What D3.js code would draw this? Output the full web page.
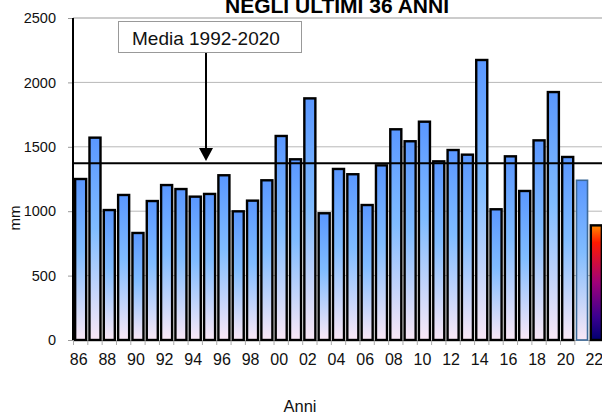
<!DOCTYPE html>
<html>
<head>
    <meta charset="utf-8">
    <title>Precipitazioni annue</title>
    <script type="text/javascript" src="https://d3js.org/d3.v7.min.js"></script>
    <style>
        body { margin: 0; background: white; }
        .canvas { font-family: "Liberation Sans", Arial, sans-serif; background-color: white; }
    </style>
</head>
<body>
    <svg class="canvas" width="602" height="414"></svg>
    <script type="text/javascript">
        // anni (etichette) e precipitazione annua in mm
        var years = ["86","87","88","89","90","91","92","93","94","95","96","97","98","99",
                     "00","01","02","03","04","05","06","07","08","09","10","11","12","13",
                     "14","15","16","17","18","19","20","21","22"]
        var rain = [1250, 1571, 1009, 1126, 831, 1079, 1203, 1172, 1113, 1134, 1279, 999, 1082, 1240,
                    1584, 1403, 1876, 984, 1328, 1287, 1048, 1356, 1636, 1543, 1695, 1387, 1475, 1439,
                    2174, 1015, 1426, 1157, 1550, 1925, 1421, 1240, 890]
        var media = 1372
        var mediaLabel = "Media 1992-2020"
        var yTicks = [0, 500, 1000, 1500, 2000, 2500]
        var xLabels = years.filter((d, i) => i % 2 === 0)

        var data = years.map((y, i) => ({ year: y, value: rain[i] }))

        var svg = d3.select('.canvas')
        var pLeft = 73, pRight = 603.5, pTop = 18, pBottom = 340

        var x = d3.scaleBand().domain(years).range([73.5, pRight])
            .paddingInner(0.23).paddingOuter(0.115)
        var y = d3.scaleLinear().domain([0, 2500]).range([pBottom, pTop])

        var defs = svg.append('defs')
        var g1 = defs.append('linearGradient').attr('id', 'blu')
            .attr('x1', 0).attr('y1', 0).attr('x2', 0).attr('y2', 1)
        g1.append('stop').attr('offset', '0%').attr('stop-color', '#5a97ff')
        g1.append('stop').attr('offset', '45%').attr('stop-color', '#80bcff')
        g1.append('stop').attr('offset', '100%').attr('stop-color', '#fae8f6')

        var g2 = defs.append('linearGradient').attr('id', 'caldo')
            .attr('x1', 0).attr('y1', 0).attr('x2', 0).attr('y2', 1)
        g2.append('stop').attr('offset', '0%').attr('stop-color', '#ff8a00')
        g2.append('stop').attr('offset', '15%').attr('stop-color', '#ff1a00')
        g2.append('stop').attr('offset', '50%').attr('stop-color', '#a0007a')
        g2.append('stop').attr('offset', '80%').attr('stop-color', '#3a0090')
        g2.append('stop').attr('offset', '100%').attr('stop-color', '#000070')

        // griglia
        svg.append('g').selectAll('line').data(yTicks.slice(1)).enter().append('line')
            .attr('x1', pLeft).attr('x2', 602)
            .attr('y1', d => y(d)).attr('y2', d => y(d))
            .attr('stroke', d => d === 2500 ? '#999' : '#b8b8b8').attr('stroke-width', 1)

        // asse x
        var xAxis = d3.axisBottom(x).tickValues(xLabels).tickSize(0).tickPadding(14)
        var gx = svg.append('g').attr('transform', 'translate(0,' + pBottom + ')').call(xAxis)
        gx.select('.domain').attr('stroke', '#aaa')
        gx.selectAll('text').attr('font-size', '16px').attr('fill', '#111').attr('dx', -2)
            .attr('font-family', '"Liberation Sans", Arial, sans-serif')
        svg.append('g').selectAll('line').data(years).enter().append('line')
            .attr('x1', d => x(d) - x.step() * x.paddingInner() / 2)
            .attr('x2', d => x(d) - x.step() * x.paddingInner() / 2)
            .attr('y1', pBottom).attr('y2', pBottom + 5)
            .attr('stroke', '#aaa')

        // asse y
        var yAxis = d3.axisLeft(y).tickValues(yTicks).tickSize(5).tickPadding(12)
            .tickFormat(d3.format('d'))
        var gy = svg.append('g').attr('transform', 'translate(' + pLeft + ',0)').call(yAxis)
        gy.select('.domain').remove()
        gy.selectAll('.tick line').attr('stroke', '#999')
        gy.selectAll('text').attr('font-size', '14.5px').attr('fill', '#111')
            .attr('font-family', '"Liberation Sans", Arial, sans-serif')
        svg.append('line').attr('x1', pLeft).attr('x2', pLeft).attr('y1', pTop).attr('y2', pBottom)
            .attr('stroke', '#000').attr('stroke-width', 2)

        // barre
        svg.append('g').selectAll('rect').data(data).enter().append('rect')
            .attr('x', d => x(d.year))
            .attr('y', d => y(d.value))
            .attr('width', x.bandwidth())
            .attr('height', d => pBottom - y(d.value))
            .attr('fill', d => d.year === '22' ? 'url(#caldo)' : 'url(#blu)')
            .attr('stroke', d => d.year === '21' ? '#3d6a99' : '#000')
            .attr('stroke-width', d => d.year === '21' ? 1.6 : 2.4)

        // linea media
        svg.append('line').attr('x1', pLeft).attr('x2', 602)
            .attr('y1', y(media)).attr('y2', y(media))
            .attr('stroke', '#000').attr('stroke-width', 2)

        // etichetta media con freccia
        svg.append('rect').attr('x', 118.5).attr('y', 21.5).attr('width', 183).attr('height', 31)
            .attr('fill', 'white').attr('stroke', '#999')
        svg.append('text').attr('x', 132).attr('y', 45).attr('font-size', '19px')
            .attr('fill', '#111').text(mediaLabel)
        svg.append('line').attr('x1', 206).attr('x2', 206).attr('y1', 53).attr('y2', 150)
            .attr('stroke', '#000').attr('stroke-width', 2)
        svg.append('path').attr('d', 'M199,148 L213,148 L206,161 Z').attr('fill', '#000')

        // titoli
        svg.append('text').attr('x', 337).attr('y', 13).attr('text-anchor', 'middle')
            .attr('font-size', '21px').attr('font-weight', 'bold').attr('fill', '#000')
            .text('NEGLI ULTIMI 36 ANNI')
        svg.append('text').attr('transform', 'translate(20,218) rotate(-90)')
            .attr('text-anchor', 'middle').attr('font-size', '15px').attr('fill', '#111').text('mm')
        svg.append('text').attr('x', 300).attr('y', 412).attr('text-anchor', 'middle')
            .attr('font-size', '16.5px').attr('fill', '#111').text('Anni')
    </script>
</body>
</html>
